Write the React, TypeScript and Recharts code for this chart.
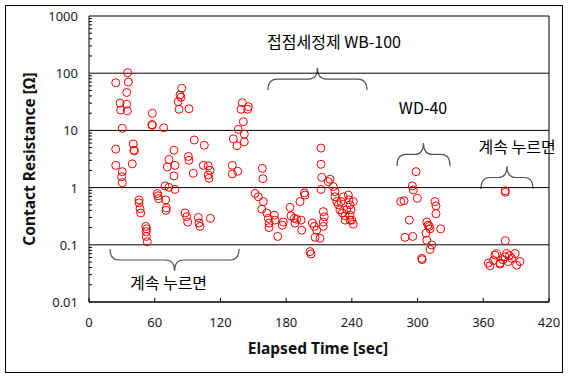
import {
  ScatterChart,
  Scatter,
  XAxis,
  YAxis,
  ReferenceLine,
  ReferenceArea,
  ReferenceDot,
  Label
} from "recharts";

// =========================
// DATA
// =========================

// first "계속 누르면" run
const holdATime = [
  35.3, 24.4, 35.9, 34.4, 28.3, 34.4, 28.9, 35, 30.4, 57.8, 57.8, 57.5, 68.2,
  24.4, 40.4, 41.4, 41, 24.4, 30.4, 29.8, 30.4, 39.5, 77.6, 73, 71.5, 78.5, 77.6,
  69.4, 73, 78.5, 45.7, 45.7, 46.6, 47.2, 62.4, 63, 63.5, 70, 70.6, 70.3, 51.8,
  52.5, 52.3, 52.3, 53.2, 84.6, 83.1, 84, 81.5, 82.2, 91.3, 140, 138.8, 145.5,
  144.9, 140.9, 136.3, 141.8, 131.8, 135.1, 141.8, 96.1, 105.3, 90.7, 91.3,
  95.2, 104.4, 108.9, 110.5, 108.9, 109.6, 130.8, 135.8, 130.8, 87.7, 89.2,
  90.1, 99.8, 100.4, 101.4, 110.8
];
const holdAValue = [
  102, 68, 70, 46, 30, 28.6, 22.7, 22, 10.9, 19.9, 12.3, 12.6, 11.1, 4.7, 5.8,
  4.4, 4.5, 2.45, 1.9, 1.55, 1.22, 2.6, 4.5, 3.1, 2.3, 2.45, 1.6, 1.07, 1.01,
  0.93, 0.61, 0.54, 0.43, 0.36, 0.79, 0.72, 0.64, 0.61, 0.44, 0.4, 0.21, 0.19,
  0.17, 0.14, 0.113, 54.5, 41.6, 38, 31.8, 23.4, 23.9, 30.5, 23.4, 26, 23.4,
  14.2, 10.4, 8.6, 7.1, 5.4, 6.3, 6.8, 5.5, 3.5, 3.0, 1.78, 2.45, 2.4, 2.0,
  1.66, 1.45, 2.45, 1.93, 1.73, 0.36, 0.31, 0.25, 0.3, 0.24, 0.21, 0.29
];

// 접점세정제 WB-100
const wb100Time = [
  158.2, 158.8, 211.8, 211.8, 212.5, 220, 211.8, 218.4, 223, 224.6, 151.6,
  154.6, 159.1, 157.7, 162.3, 163.7, 164.4, 164.4, 169.2, 169.8, 172.3, 177.4,
  176.5, 183.5, 184.4, 187.5, 188.1, 189.6, 193.6, 194.2, 192.7, 197.2, 196.6,
  201.8, 202.7, 203.9, 205.7, 207.9, 206.4, 210.9, 213.9, 214.8, 213.9, 213.9,
  224.6, 226.2, 227.7, 229.2, 231.3, 233.8, 233.8, 236.8, 237.4, 238.3, 239.2,
  238.3, 238.3, 235.3, 230.1, 232.2, 241.3, 239.9, 241.3
];
const wb100Value = [
  2.17, 1.43, 4.9, 2.55, 1.51, 1.4, 0.93, 1.27, 1.04, 0.85, 0.79, 0.69, 0.57,
  0.42, 0.36, 0.29, 0.24, 0.2, 0.33, 0.27, 0.14, 0.25, 0.22, 0.45, 0.32, 0.29,
  0.24, 0.28, 0.27, 0.18, 0.57, 0.74, 0.81, 0.076, 0.069, 0.24, 0.21, 0.18,
  0.135, 0.13, 0.38, 0.31, 0.25, 0.21, 0.69, 0.57, 0.5, 0.41, 0.36, 0.32, 0.27,
  0.74, 0.61, 0.5, 0.41, 0.33, 0.27, 0.41, 0.57, 0.69, 0.57, 0.27, 0.23
];

// WD-40
const wd40Time = [
  298.6, 295.2, 296.1, 299.8, 284.6, 287.6, 315.9, 316.8, 316.8, 292.5, 308.4,
  311.4, 321.1, 307.7, 288.5, 295.6, 308.4, 312.9, 311.4, 303.8, 304.2, 309.5,
  310.7
];
const wd40Value = [
  1.9, 1.07, 0.91, 0.65, 0.57, 0.59, 0.57, 0.48, 0.35, 0.27, 0.25, 0.19, 0.19,
  0.16, 0.135, 0.14, 0.12, 0.099, 0.083, 0.058, 0.055, 0.22, 0.21
];

// second "계속 누르면" run
const holdBTime = [
  380.1, 380.1, 380.1, 370.7, 375.3, 366.1, 364.6, 379.8, 385.9, 390.5, 382.9,
  369.2, 389, 381.4, 393.5, 375.3, 372, 384, 378
];
const holdBValue = [
  0.88, 0.83, 0.118, 0.066, 0.046, 0.043, 0.048, 0.062, 0.058, 0.044, 0.051,
  0.053, 0.07, 0.07, 0.051, 0.048, 0.07, 0.065, 0.055
];

const xTicks = [0, 60, 120, 180, 240, 300, 360, 420];
const decades = [0.01, 0.1, 1, 10, 100, 1000];
const yTicks = decades.flatMap((d, i) =>
  i === decades.length - 1 ? [d] : [1, 2, 3, 4, 5, 6, 7, 8, 9].map((m) => +(m * d).toPrecision(3))
);

// braces: [x1, x2, tip value, end value]
const braces = [
  { x1: 163.4, x2: 253.8, tip: 123, end: 50.8 },
  { x1: 281.2, x2: 329.6, tip: 6.03, end: 2.39 },
  { x1: 357.9, x2: 405.4, tip: 2.39, end: 0.945 },
  { x1: 19.2, x2: 137, tip: 0.0348, end: 0.0845 }
];
const notes = [
  { x: 223.7, y: 351, text: "접점세정제 WB-100" },
  { x: 305, y: 23.7, text: "WD-40" },
  { x: 390.8, y: 5.1, text: "계속 누르면" },
  { x: 72.6, y: 0.0207, text: "계속 누르면" }
];

const toPoints = (t: number[], v: number[]) => t.map((x, i) => ({ x, y: v[i] }));

// =========================
// STYLE
// =========================

const red = "#ff0000";
const ink = "#000000";
const tickFont = "'Noto Sans', 'DejaVu Sans', sans-serif";
const krFont = "'Noto Sans CJK KR', 'Noto Sans', sans-serif";

const Ring = (p: any) => (
  <circle cx={p.cx} cy={p.cy} r={4} fill="none" stroke={red} strokeWidth={1} />
);

const YTick = (p: any) => {
  const v = p.payload.value;
  const isMajor = decades.includes(v);
  const axisX = p.x + 11;
  return (
    <g>
      {!isMajor && <line x1={axisX} x2={axisX + 3} y1={p.y} y2={p.y} stroke={ink} />}
      {isMajor && (
        <text x={p.x} y={p.y + 5} textAnchor="end" fontSize={13} fontFamily={tickFont} fill="#1a1a1a">
          {String(v)}
        </text>
      )}
    </g>
  );
};

const XTick = (p: any) => {
  const axisY = p.y - 10;
  return (
    <g>
      <line x1={p.x} x2={p.x} y1={axisY} y2={axisY - 4} stroke={ink} />
      <text x={p.x} y={axisY + 24.5} textAnchor="middle" fontSize={13} fontFamily={tickFont} fill="#1a1a1a">
        {p.payload.value}
      </text>
    </g>
  );
};

const bracePath = (L: number, R: number, tipY: number, endY: number) => {
  const M = (L + R) / 2;
  const armY = (tipY + endY) / 2;
  const r = Math.min(9, (R - L) / 6);
  return `M ${L} ${endY} Q ${L} ${armY} ${L + r} ${armY} L ${M - r} ${armY} Q ${M} ${armY} ${M} ${tipY} Q ${M} ${armY} ${M + r} ${armY} L ${R - r} ${armY} Q ${R} ${armY} ${R} ${endY}`;
};

export default function App() {
  return (
    <div style={{ position: "absolute", left: 0, top: 0, width: 569, height: 379, background: "#fff" }}>
      <div
        style={{
          position: "absolute",
          left: 5,
          top: 5,
          width: 558,
          height: 368,
          border: "1px solid #000",
          boxSizing: "border-box"
        }}
      />
      <div style={{ position: "absolute", left: 0, top: 0 }}>
        <ScatterChart width={569} height={379} margin={{ top: 16, right: 20, bottom: 47, left: 0 }}>
          <XAxis
            type="number"
            dataKey="x"
            domain={[0, 420]}
            ticks={xTicks}
            interval={0}
            tickSize={0}
            tickMargin={10}
            tick={<XTick />}
            axisLine={{ stroke: ink }}
            height={30}
          >
            <Label
              content={(props: any) => {
                const vb = props.viewBox;
                return (
                  <text
                    x={vb.x + vb.width / 2 - 1}
                    y={vb.y + 52}
                    textAnchor="middle"
                    fontSize={15.5}
                    fontWeight="bold"
                    fontFamily={tickFont}
                    fill="#111"
                  >
                    Elapsed Time [sec]
                  </text>
                );
              }}
            />
          </XAxis>
          <YAxis
            type="number"
            dataKey="y"
            scale="log"
            domain={[0.01, 1000]}
            allowDataOverflow
            ticks={yTicks}
            interval={0}
            tickSize={0}
            tickMargin={11}
            tick={<YTick />}
            axisLine={{ stroke: ink }}
            width={89}
          >
            <Label
              content={(props: any) => {
                const vb = props.viewBox;
                const cx = 35;
                const cy = vb.y + vb.height / 2;
                return (
                  <text
                    x={cx}
                    y={cy}
                    transform={`rotate(-90 ${cx} ${cy})`}
                    textAnchor="middle"
                    fontSize={15.5}
                    fontWeight="bold"
                    fontFamily={tickFont}
                    fill="#111"
                  >
                    Contact Resistance [Ω]
                  </text>
                );
              }}
            />
          </YAxis>

          {/* decade grid + plot box */}
          {decades.map((d) => (
            <ReferenceLine key={d} y={d} stroke={ink} strokeWidth={1} />
          ))}
          <ReferenceLine x={420} stroke={ink} strokeWidth={1} />

          {/* braces */}
          {braces.map((b, i) => (
            <ReferenceArea
              key={"b" + i}
              x1={b.x1}
              x2={b.x2}
              y1={b.tip}
              y2={b.end}
              shape={(p: any) => {
                const tipUp = b.tip > b.end;
                const top = p.y;
                const bottom = p.y + p.height;
                return (
                  <path
                    d={bracePath(p.x, p.x + p.width, tipUp ? top : bottom, tipUp ? bottom : top)}
                    fill="none"
                    stroke="#555"
                    strokeWidth={1.2}
                  />
                );
              }}
            />
          ))}

          {notes.map((n, i) => (
            <ReferenceDot
              key={"n" + i}
              x={n.x}
              y={n.y}
              r={0}
              shape={(p: any) => (
                <text
                  x={p.cx}
                  y={p.cy + 5.5}
                  textAnchor="middle"
                  fontSize={16}
                  fontFamily={krFont}
                  fill="#000"
                >
                  {n.text}
                </text>
              )}
            />
          ))}

          <Scatter data={toPoints(holdATime, holdAValue)} shape={<Ring />} isAnimationActive={false} />
          <Scatter data={toPoints(wb100Time, wb100Value)} shape={<Ring />} isAnimationActive={false} />
          <Scatter data={toPoints(wd40Time, wd40Value)} shape={<Ring />} isAnimationActive={false} />
          <Scatter data={toPoints(holdBTime, holdBValue)} shape={<Ring />} isAnimationActive={false} />
        </ScatterChart>
      </div>
    </div>
  );
}
